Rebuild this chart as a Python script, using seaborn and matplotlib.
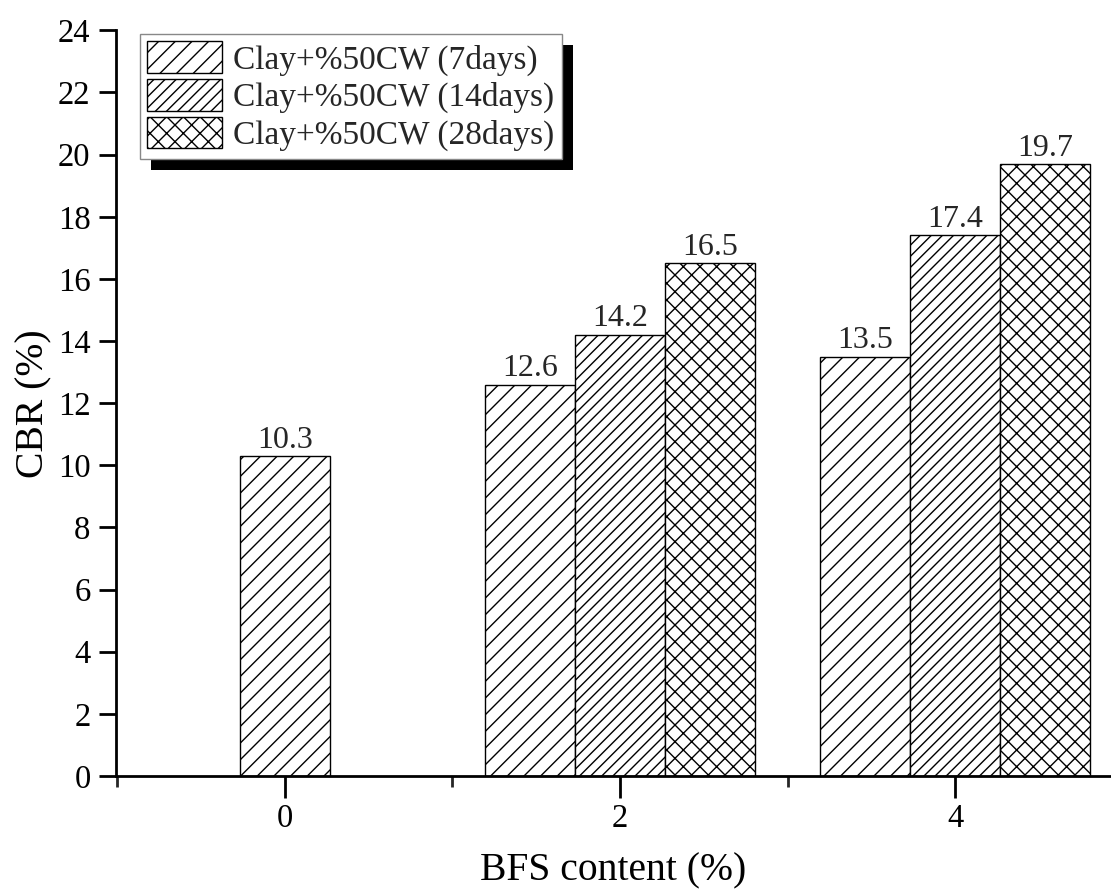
import numpy as np
import pandas as pd
import seaborn as sns
import matplotlib
matplotlib.use("Agg")
import matplotlib.pyplot as plt
from matplotlib.patches import Patch, Rectangle
from matplotlib.ticker import MultipleLocator

sns.set_theme(style="ticks")
plt.rcParams['font.family'] = ['Liberation Serif', 'DejaVu Serif']
plt.rcParams['hatch.linewidth'] = 1.0
plt.rcParams['hatch.color'] = 'black'

# ---- data ----
series_names = ["Clay+%50CW (7days)", "Clay+%50CW (14days)", "Clay+%50CW (28days)"]
bfs_7 = [0, 2, 4]
cbr_7 = [10.3, 12.6, 13.5]
bfs_14 = [2, 4]
cbr_14 = [14.2, 17.4]
bfs_28 = [2, 4]
cbr_28 = [16.5, 19.7]
hatches = ["//", "///", "xx"]
xticks = [0, 2, 4]
yticks = list(range(0, 25, 2))

bar_w = 0.537
# group 0 has only one bar (centred); other groups: 7d left, 14d centre, 28d right
pos_7 = [b if b == 0 else b - bar_w for b in bfs_7]
pos_14 = list(bfs_14)
pos_28 = [b + bar_w for b in bfs_28]

df = pd.DataFrame({
    "pos": pos_7 + pos_14 + pos_28,
    "cbr": cbr_7 + cbr_14 + cbr_28,
    "series": [series_names[0]] * len(cbr_7) + [series_names[1]] * len(cbr_14)
              + [series_names[2]] * len(cbr_28),
})

TICK_FS = 23.5
LEG_FS = 24
LBL_FS = 23
AX_FS = 28.5
fig = plt.figure(figsize=(11.11, 8.93), dpi=100)
ax = fig.add_axes([0.104, 0.131, 0.896, 0.835])

sns.barplot(data=df, x="pos", y="cbr", hue="series", hue_order=series_names,
            native_scale=True, dodge=False, width=1.0,
            palette=["white"] * 3, edgecolor="black", linewidth=1.0,
            legend=False, ax=ax)

for cont, h in zip(ax.containers, hatches):
    for bar in cont:
        bar.set_facecolor("white")
        bar.set_edgecolor("black")
        bar.set_hatch(h)
    ax.bar_label(cont, fmt="%.1f", padding=1, fontsize=LBL_FS)

ax.set_xlim(-1.01, 4.93)
ax.set_ylim(0, 24)
ax.set_xticks(xticks)
ax.set_xticklabels([str(t) for t in xticks])
ax.xaxis.set_minor_locator(MultipleLocator(1))
ax.set_yticks(yticks)
ax.tick_params(axis="both", which="major", labelsize=TICK_FS, width=2, direction="out",
               colors="black")
ax.tick_params(axis="x", which="major", length=16, pad=4)
ax.tick_params(axis="y", which="major", length=12, pad=6)
ax.tick_params(axis="x", which="minor", length=8, width=2)
for s in ["top", "right"]:
    ax.spines[s].set_visible(False)
for s in ["left", "bottom"]:
    ax.spines[s].set_linewidth(2)
    ax.spines[s].set_color("black")
ax.set_xlabel("BFS content (%)", fontsize=AX_FS, labelpad=13, color="black")
ax.set_ylabel("CBR (%)", fontsize=AX_FS, labelpad=4, color="black")

handles = [Patch(facecolor="white", edgecolor="black", hatch=h, linewidth=1.0) for h in hatches]
leg = ax.legend(handles, series_names, loc="upper left", bbox_to_anchor=(0.0246, 0.995),
                fontsize=LEG_FS, frameon=True, fancybox=False, edgecolor="#888888",
                framealpha=1, handlelength=2.25, handleheight=1.08, handletextpad=0.33,
                borderpad=0.22, labelspacing=0.1, borderaxespad=0.0)
leg.get_frame().set_linewidth(1.0)

fig.canvas.draw()
bb = leg.get_window_extent().transformed(fig.transFigure.inverted())
off_x, off_y = 11 / 1111, -11 / 893
shadow = Rectangle((bb.x0 + off_x, bb.y0 + off_y), bb.width, bb.height,
                   transform=fig.transFigure, facecolor="black", edgecolor="none", zorder=0.5)
fig.patches.append(shadow)
ax.set_zorder(1)
ax.patch.set_visible(False)

fig.savefig("out.png", dpi=100)
